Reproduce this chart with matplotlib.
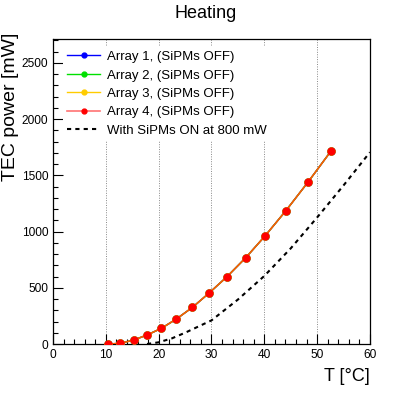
import matplotlib
matplotlib.use("Agg")
import matplotlib.pyplot as plt
from matplotlib.ticker import MultipleLocator

plt.rcParams['font.family'] = ['Liberation Sans', 'DejaVu Sans']

# measured points (all four arrays lie on top of each other)
temp = [10.5, 12.75, 15.3, 17.8, 20.5, 23.35, 26.4, 29.5, 32.95, 36.5, 40.2, 44.1, 48.3, 52.65]
power_a1 = [0, 6, 36, 80, 139, 222, 326, 451, 599, 768, 964, 1186, 1441, 1717]
power_a2 = [0, 6, 36, 80, 139, 222, 326, 451, 599, 768, 964, 1186, 1441, 1717]
power_a3 = [0, 6, 36, 80, 139, 222, 326, 451, 599, 768, 964, 1186, 1441, 1717]
power_a4 = [0, 6, 36, 80, 139, 222, 326, 451, 599, 768, 964, 1186, 1441, 1717]

# curve with SiPMs on
temp_on = [17.8, 20, 22.5, 25, 27.5, 30, 35, 40, 45, 50, 55, 60]
power_on = [0, 15, 50, 100, 155, 210, 395, 605, 850, 1125, 1410, 1705]

labels = ['Array 1, (SiPMs OFF)', 'Array 2, (SiPMs OFF)', 'Array 3, (SiPMs OFF)',
          'Array 4, (SiPMs OFF)', 'With SiPMs ON at 800 mW']

fig = plt.figure(figsize=(4.11, 3.96), dpi=100)
ax = fig.add_axes([0.129, 0.1313, 0.771, 0.7695])

ax.plot(temp, power_a1, color='#0000ff', lw=1, marker='o', ms=5, label=labels[0], zorder=3)
ax.plot(temp, power_a2, color='#00e000', lw=1, marker='o', ms=5, label=labels[1], zorder=3)
ax.plot(temp, power_a3, color='#ffcc00', lw=1, marker='o', ms=5, label=labels[2], zorder=3)
ax.plot(temp, power_a4, color=(1, 0, 0, 0.55), lw=1.2, marker='o', ms=5,
        mfc='#ff0000', mec='#ff0000', label=labels[3], zorder=4)
ax.plot(temp_on, power_on, color='black', lw=1.5, ls=(0, (2, 2)), label=labels[4], zorder=3)

ax.set_xlim(0, 60)
ax.set_ylim(0, 2710)
ax.xaxis.set_major_locator(MultipleLocator(10))
ax.xaxis.set_minor_locator(MultipleLocator(2))
ax.yaxis.set_major_locator(MultipleLocator(500))
ax.yaxis.set_minor_locator(MultipleLocator(100))
ax.tick_params(which='both', direction='in', labelsize=8.6, top=False, right=False)
ax.tick_params(which='major', length=7, width=0.8)
ax.tick_params(which='minor', length=3.5, width=0.8)

for v in [10, 20, 30, 40, 50]:
    ax.axvline(v, color='#888888', lw=0.7, ls=(0, (1, 1.5)), zorder=1)

for s in ax.spines.values():
    s.set_linewidth(0.9)

ax.set_xlabel('T [°C]', fontsize=13, loc='right')
ax.set_ylabel('TEC power [mW]', fontsize=14, loc='top')
ax.xaxis.set_label_coords(1.0, -0.078)
ax.yaxis.set_label_coords(-0.107, 1.023)

fig.text(0.5, 0.967, 'Heating', fontsize=13, ha='center', va='center')

leg = ax.legend(loc='upper left', bbox_to_anchor=(0.033, 0.975), borderaxespad=0,
                fontsize=9.5, frameon=True, fancybox=False, framealpha=1,
                edgecolor='none', handlelength=2.5, handletextpad=0.5,
                labelspacing=0.47, markerscale=0.7, borderpad=0.3)
leg.set_zorder(2)

fig.savefig('out.png', dpi=100)
